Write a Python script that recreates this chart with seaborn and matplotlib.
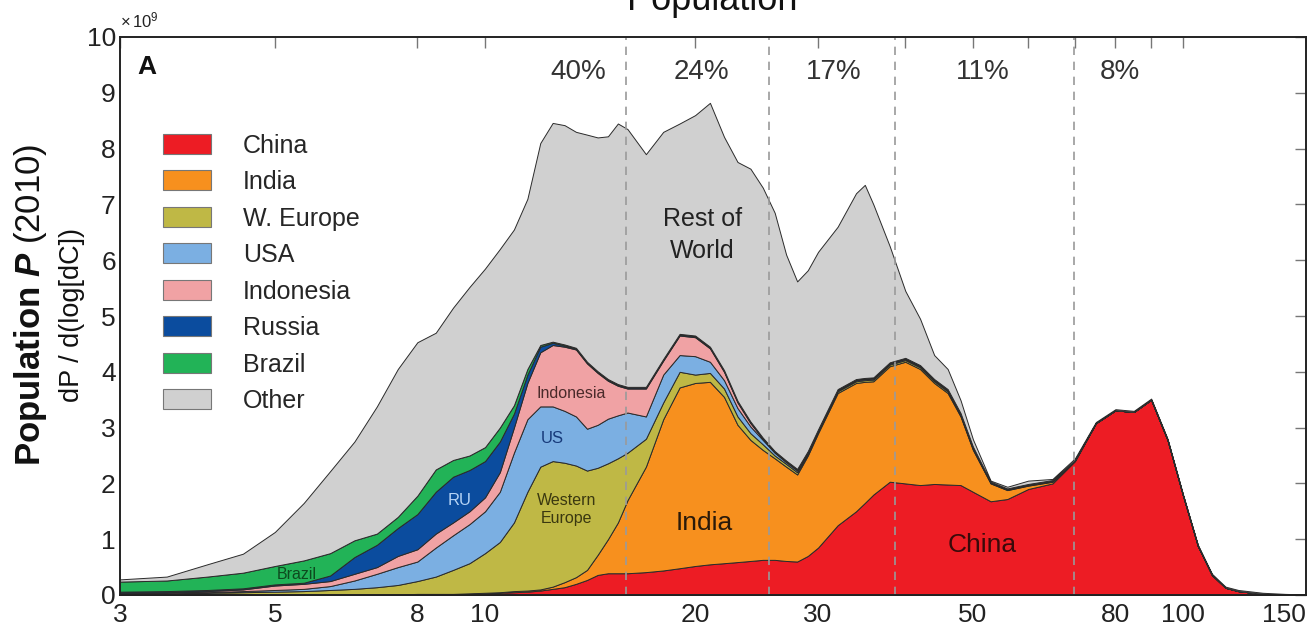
import matplotlib
matplotlib.use("Agg")
import matplotlib.pyplot as plt
import seaborn as sns
from matplotlib.patches import Patch
from matplotlib.ticker import FixedLocator, NullFormatter

# Daily consumption level (log axis)
consumption = [3, 3.5, 4, 4.5, 5, 5.5, 6, 6.5, 7, 7.5,
               8, 8.5, 9, 9.5, 10, 10.5, 11, 11.5, 12, 12.5,
               13, 13.5, 14, 14.5, 15, 15.5, 16, 17, 18, 19,
               20, 21, 22, 23, 24, 25, 26, 27, 28, 29,
               30, 32, 34, 35, 36, 38, 40, 42, 44, 46,
               48, 50, 53, 56, 60, 65, 70, 75, 80, 85,
               90, 95, 100, 105, 110, 115, 120, 130, 140, 150]

# Population density per region, units of 1e9 (stacked bottom to top)
china = [.01, .01, .01, .01, .01, .01, .01, .01, .01, .01,
         .02, .02, .02, .02, .03, .04, .05, .06, .08, .11,
         .14, .20, .27, .36, .39, .39, .39, .41, .44, .48,
         .52, .55, .57, .59, .61, .63, .63, .61, .60, .70,
         .85, 1.25, 1.50, 1.65, 1.80, 2.03, 2.00, 1.97, 1.99, 1.98,
         1.97, 1.85, 1.68, 1.72, 1.90, 2.00, 2.40, 3.08, 3.31, 3.28,
         3.50, 2.78, 1.78, .88, .36, .13, .07, .02, .01, .005]
india = [0, 0, 0, 0, 0, 0, 0, 0, 0, 0,
         0, 0, 0, .01, .01, .01, .02, .02, .02, .04,
         .09, .12, .18, .36, .61, .91, 1.31, 1.89, 2.71, 3.24,
         3.28, 3.27, 2.98, 2.46, 2.17, 1.97, 1.82, 1.69, 1.56, 1.80,
         2.05, 2.37, 2.30, 2.17, 2.03, 2.07, 2.18, 2.08, 1.81, 1.64,
         1.23, .75, .32, .16, .06, .03, .01, 0, 0, 0,
         0, 0, 0, 0, 0, 0, 0, 0, 0, 0]
w_europe = [.01, .02, .03, .04, .05, .06, .08, .10, .13, .17,
            .23, .31, .43, .54, .71, .90, 1.23, 1.77, 2.20, 2.25,
            2.14, 2.00, 1.78, 1.56, 1.36, 1.15, .85, .50, .30, .28,
            .15, .16, .15, .15, .12, .10, .05, .05, .04, .03,
            .03, .03, .03, .03, .03, .03, .03, .03, .03, .03,
            .02, .02, .01, .01, .01, .01, 0, 0, 0, 0,
            0, 0, 0, 0, 0, 0, 0, 0, 0, 0]
usa = [.01, .01, .01, .02, .03, .04, .07, .15, .24, .32,
       .35, .52, .62, .70, .75, .90, 1.25, 1.30, 1.08, .98,
       .93, .88, .75, .77, .80, .77, .72, .40, .50, .30,
       .33, .20, .15, .15, .12, .08, .05, .03, .03, .02,
       .02, .02, .02, .02, .02, .02, .02, .02, .02, .02,
       .02, .02, .01, .01, .01, .01, .01, 0, 0, 0,
       0, 0, 0, 0, 0, 0, 0, 0, 0, 0]
indonesia = [.01, .01, .02, .03, .08, .09, .09, .12, .12, .20,
             .22, .25, .23, .23, .25, .35, .45, .65, .97, 1.10,
             1.15, 1.20, 1.17, .93, .68, .53, .43, .50, .25, .35,
             .34, .24, .15, .10, .06, .02, .02, .02, .02, .02,
             .01, .01, .01, .01, .01, .01, .01, .01, .01, .01,
             .01, .01, .01, .01, .01, .01, 0, 0, 0, 0,
             0, 0, 0, 0, 0, 0, 0, 0, 0, 0]
russia = [.02, .02, .02, .02, .02, .02, .10, .30, .40, .50,
          .63, .75, .82, .74, .65, .55, .25, .15, .10, .04,
          .02, .02, .02, .02, .02, .02, .02, .02, .02, .02,
          .02, .02, .02, .02, .02, .01, .01, .01, .01, .01,
          .01, .01, .01, .01, .01, .01, .01, .01, .01, .01,
          .01, .01, 0, 0, 0, 0, 0, 0, 0, 0,
          0, 0, 0, 0, 0, 0, 0, 0, 0, 0]
brazil = [.18, .19, .24, .28, .33, .40, .40, .30, .20, .20,
          .33, .40, .30, .26, .25, .25, .15, .10, .03, .02,
          .02, .01, .01, .01, .01, .01, .01, .01, .01, .01,
          .01, .01, .01, .01, .01, .01, 0, 0, 0, 0,
          0, 0, 0, 0, 0, 0, 0, 0, 0, 0,
          0, 0, 0, 0, 0, 0, 0, 0, 0, 0,
          0, 0, 0, 0, 0, 0, 0, 0, 0, 0]
other = [.04, .07, .22, .34, .61, 1.03, 1.47, 1.77, 2.28, 2.65,
         2.75, 2.45, 2.73, 3.02, 3.20, 3.20, 3.15, 3.05, 3.62, 3.92,
         3.93, 3.87, 4.07, 4.19, 4.35, 4.67, 4.62, 4.17, 4.07, 3.77,
         3.95, 4.37, 4.18, 4.28, 4.53, 4.48, 4.27, 3.69, 3.36, 3.24,
         3.18, 2.91, 3.33, 3.46, 3.10, 2.08, 1.20, .83, .43, .36,
         .23, .13, .02, .03, .06, .02, .03, .02, .02, .02,
         .02, .02, .02, .02, .02, .02, .02, .02, .01, .005]

regions = ["China", "India", "W. Europe", "USA", "Indonesia", "Russia", "Brazil", "Other"]
region_colors = ["#ED1C24", "#F7901E", "#BFB845", "#7BAFE2", "#F0A2A4", "#0B4C9E", "#22B357", "#D0D0D0"]

# Income-quintile boundaries and the population share between them
boundaries = [15.9, 25.5, 38.7, 69.7]
share_labels = ["40%", "24%", "17%", "11%", "8%"]
share_x = [13.6, 20.4, 31.6, 51.7, 81.3]

xticks_major = [3, 5, 8, 10, 20, 30, 50, 80, 100, 150]
xtick_labels = ["3", "5", "8", "10", "20", "30", "50", "80", "100", "150"]
xticks_minor = [40, 60, 70, 90]

sns.set_theme(style="white")
plt.rcParams["font.family"] = ["Liberation Sans", "DejaVu Sans"]
plt.rcParams["mathtext.fontset"] = "custom"
plt.rcParams["mathtext.rm"] = "Liberation Sans"
plt.rcParams["mathtext.it"] = "Liberation Sans:italic"
plt.rcParams["mathtext.bf"] = "Liberation Sans:bold"
plt.rcParams["mathtext.bfit"] = "Liberation Sans:bold:italic"

palette = sns.color_palette(region_colors)

W, H = 1307, 629
fig = plt.figure(figsize=(W / 100, H / 100), dpi=100)
ax = fig.add_axes([120 / W, 1 - 595 / H, 1186 / W, 558 / H])

layers = [china, india, w_europe, usa, indonesia, russia, brazil, other]
ax.stackplot(consumption, *layers, colors=palette, edgecolor="#2a2a2a",
             linewidth=0.7, zorder=2)

for b in boundaries:
    ax.axvline(b, color="#9a9a9a", linestyle=(0, (5, 4)), linewidth=1.2, zorder=3)

for lbl, sx in zip(share_labels, share_x):
    ax.text(sx, 9.37, lbl, ha="center", va="center", fontsize=20, color="#333333")

ax.set_xscale("log")
ax.set_xlim(3, 150)
ax.set_ylim(0, 10)
ax.xaxis.set_major_locator(FixedLocator(xticks_major))
ax.set_xticks(xticks_major, labels=xtick_labels)
ax.xaxis.set_minor_locator(FixedLocator(xticks_minor))
ax.xaxis.set_minor_formatter(NullFormatter())
ax.set_yticks(range(0, 11))
ax.tick_params(which="both", direction="in", top=True, right=True, length=8,
               width=1, color="#777777", labelsize=19, labelcolor="#222222")
ax.tick_params(axis="x", pad=6)
ax.tick_params(axis="y", pad=3)
ax.get_xticklabels()[-1].set_horizontalalignment("right")
for s in ax.spines.values():
    s.set_color("#222222")
    s.set_linewidth(1.4)
    s.set_zorder(5)

ax.text(0.0, 1.012, r"$\times\,10^9$", transform=ax.transAxes, fontsize=12,
        ha="left", va="bottom", color="#222222")
ax.text(0.015, 0.947, "A", transform=ax.transAxes, fontsize=19,
        fontweight="bold", ha="left", va="center", color="#111111")

# In-plot region labels
ax.text(20.5, 6.45, "Rest of\nWorld", ha="center", va="center", fontsize=18,
        color="#222222", linespacing=1.45, zorder=4)
ax.text(20.6, 1.29, "India", ha="center", va="center", fontsize=19, color="#2a1a0a", zorder=4)
ax.text(51.5, 0.9, "China", ha="center", va="center", fontsize=19, color="#3a0a0a", zorder=4)
ax.text(13.3, 3.62, "Indonesia", ha="center", va="center", fontsize=11.5, color="#4a2a2a", zorder=4)
ax.text(12.5, 2.8, "US", ha="center", va="center", fontsize=12, color="#173a7a", zorder=4)
ax.text(13.1, 1.53, "Western\nEurope", ha="center", va="center", fontsize=11.5,
        color="#3a3810", linespacing=1.3, zorder=4)
ax.text(9.2, 1.7, "RU", ha="center", va="center", fontsize=12, color="#b5d3f5", zorder=4)
ax.text(5.37, 0.37, "Brazil", ha="center", va="center", fontsize=11.5, color="#0d4a1e", zorder=4)

handles = [Patch(facecolor=c, edgecolor="#777777", linewidth=0.8) for c in palette]
ax.legend(handles, regions, loc="upper left", bbox_to_anchor=(0.036, 0.827),
          frameon=False, fontsize=18, handlelength=1.95, handleheight=0.85,
          handletextpad=1.25, labelspacing=0.50, borderpad=0, borderaxespad=0)

fig.text(712 / W, 1 - 10 / H, "Population", ha="center", va="baseline", fontsize=26,
         color="#111111")

fig.text(31 / W, 1 - 305 / H, r"$\mathbf{Population}$ $\mathbfit{P}$ (2010)", rotation=90,
         ha="center", va="center", fontsize=25, color="#111111")
fig.text(72 / W, 1 - 315 / H, "dP / d(log[dC])", rotation=90, ha="center", va="center",
         fontsize=19.5, color="#111111")

fig.savefig("out.png", dpi=100)
